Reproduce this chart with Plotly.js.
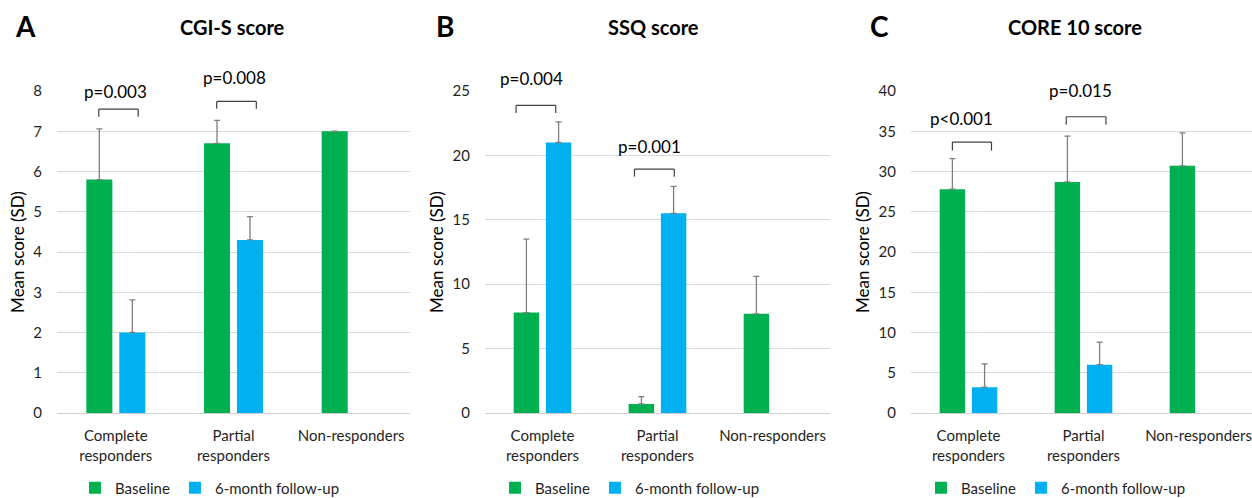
<!DOCTYPE html>
<html>
<head>
<meta charset="utf-8">
<script src="https://cdn.plot.ly/plotly-3.0.1.min.js"></script>
<style>
html, body { margin: 0; padding: 0; overflow: hidden; background: #fff; }
#chart { width: 1258px; height: 498px; }
</style>
</head>
<body>
<div id="chart"></div>
<script>
// ---- Data ----
const categories = ['Complete<br>responders', 'Partial<br>responders', 'Non-responders'];
const seriesNames = ['Baseline', '6-month follow-up'];

const cgisBaseline = [5.8, 6.7, 7.0];
const cgisBaselineSD = [1.26, 0.57, 0.0];
const cgisFollowup = [2.0, 4.3, null];
const cgisFollowupSD = [0.81, 0.58, null];

const ssqBaseline = [7.8, 0.7, 7.7];
const ssqBaselineSD = [5.7, 0.57, 2.9];
const ssqFollowup = [21.0, 15.5, null];
const ssqFollowupSD = [1.6, 2.1, null];

const coreBaseline = [27.8, 28.7, 30.7];
const coreBaselineSD = [3.8, 5.7, 4.1];
const coreFollowup = [3.2, 6.0, null];
const coreFollowupSD = [2.9, 2.8, null];

const panelTitles = ['CGI-S score', 'SSQ score', 'CORE 10 score'];
const panelLetters = ['A', 'B', 'C'];
const pLabelsA = ['p=0.003', 'p=0.008'];
const pLabelsB = ['p=0.004', 'p=0.001'];
const pLabelsC = ['p<0.001', 'p=0.015'];

// ---- Styling ----
const W = 1258, H = 498;
const GREEN = '#00B050', BLUE = '#00B0F0';
const FONT = 'Lato, "Open Sans", sans-serif';
const TXT = '#1f1f1f';

function px(v) { return v / W; }
const yDom = [(H - 413) / H, (H - 91) / H];
const xDoms = [[px(57), px(410)], [px(485), px(830)], [px(911), px(1256)]];

const panels = [
  {b: cgisBaseline, bsd: cgisBaselineSD, f: cgisFollowup, fsd: cgisFollowupSD},
  {b: ssqBaseline, bsd: ssqBaselineSD, f: ssqFollowup, fsd: ssqFollowupSD},
  {b: coreBaseline, bsd: coreBaselineSD, f: coreFollowup, fsd: coreFollowupSD}
];

const traces = [];
panels.forEach((p, i) => {
  const sfx = i === 0 ? '' : String(i + 1);
  const leg = 'legend' + sfx;
  const mk = (vals, sd, color, name) => ({
    type: 'bar', x: categories, y: vals, name: name,
    xaxis: 'x' + sfx, yaxis: 'y' + sfx, legend: leg,
    marker: {color: color},
    error_y: {type: 'data', symmetric: false, array: sd, arrayminus: sd.map(() => 0),
              color: '#7f7f7f', thickness: 1.3, width: 3},
    hoverinfo: 'y'
  });
  traces.push(mk(p.b, p.bsd, GREEN, seriesNames[0]));
  traces.push(mk(p.f, p.fsd, BLUE, seriesNames[1]));
});

const layout = {
  width: W, height: H,
  margin: {l: 0, r: 0, t: 0, b: 0, autoexpand: false},
  paper_bgcolor: '#fff', plot_bgcolor: '#fff',
  font: {family: FONT, size: 15, color: TXT},
  barmode: 'group', bargap: 0.44, bargroupgap: 0.21,
  annotations: [], shapes: []
};

const yRanges = [[0, 8], [0, 25], [0, 40]];
const yDticks = [1, 5, 5];
for (let i = 0; i < 3; i++) {
  const sfx = i === 0 ? '' : String(i + 1);
  layout['xaxis' + sfx] = {
    domain: xDoms[i], anchor: 'y' + sfx, type: 'category',
    showgrid: false, showline: false, ticks: '', ticklabelstandoff: 12,
    tickfont: {family: FONT, size: 15, color: TXT}, fixedrange: true
  };
  layout['yaxis' + sfx] = {
    domain: yDom, anchor: 'x' + sfx, range: yRanges[i], dtick: yDticks[i],
    showgrid: true, gridcolor: '#d9d9d9', gridwidth: 1,
    zeroline: true, zerolinecolor: '#d0d0d0', zerolinewidth: 1,
    showline: false, ticks: '', ticklabelstandoff: 14,
    tickfont: {family: FONT, size: 15, color: TXT},
    title: {text: 'Mean score (SD)', font: {family: FONT, size: 17, color: '#000'}, standoff: 4},
    fixedrange: true
  };
}

// legends
const legCenters = [210, 630, 1056];
legCenters.forEach((c, i) => {
  const key = 'legend' + (i === 0 ? '' : String(i + 1));
  layout[key] = {
    orientation: 'h', x: px(c), xanchor: 'center', y: (H - 488) / H, yanchor: 'middle',
    font: {family: FONT, size: 15, color: TXT}, bgcolor: 'rgba(0,0,0,0)',
    itemwidth: 30, traceorder: 'normal'
  };
});

// panel titles & letters
const titleX = [232, 653, 1075];
const letterX = [26, 445, 879];
for (let i = 0; i < 3; i++) {
  layout.annotations.push({xref: 'paper', yref: 'paper', x: px(titleX[i]), y: (H - 27) / H,
    text: '<b>' + panelTitles[i] + '</b>', showarrow: false, xanchor: 'center', yanchor: 'middle',
    font: {family: FONT, size: 20, color: '#000'}});
  layout.annotations.push({xref: 'paper', yref: 'paper', x: px(letterX[i]), y: (H - 26) / H,
    text: '<b>' + panelLetters[i] + '</b>', showarrow: false, xanchor: 'center', yanchor: 'middle',
    font: {family: FONT, size: 28, color: '#000'}});
}

// significance brackets: [cat index, left offset, right offset, top, bottom, label x offset, label y]
const brackets = [
  {ax: '', lbl: pLabelsA, b: [[0, -0.145, 0.19, 7.55, 7.36, 0.0, 7.99], [1, -0.143, 0.194, 7.74, 7.56, 0.01, 8.33]]},
  {ax: '2', lbl: pLabelsB, b: [[0, -0.23, 0.115, 23.88, 23.3, -0.1, 25.95], [1, -0.2, 0.146, 18.94, 18.35, -0.07, 20.7]]},
  {ax: '3', lbl: pLabelsC, b: [[0, -0.14, 0.2, 33.66, 32.6, -0.06, 36.56], [1, -0.15, 0.195, 36.8, 35.85, -0.03, 40.04]]}
];
brackets.forEach((g, gi) => {
  const ymax = yRanges[gi][1];
  g.b.forEach((b, j) => {
    const [c, l, r, top, bot, lx, ly] = b;
    const base = {type: 'line', xref: 'x' + g.ax, yref: 'y' + g.ax, line: {color: '#404040', width: 1.2}};
    layout.shapes.push(Object.assign({}, base, {x0: c + l, x1: c + r, y0: top, y1: top}));
    layout.shapes.push(Object.assign({}, base, {x0: c + l, x1: c + l, y0: top, y1: bot}));
    layout.shapes.push(Object.assign({}, base, {x0: c + r, x1: c + r, y0: top, y1: bot}));
    layout.annotations.push({xref: 'x' + g.ax, yref: 'y' + g.ax + ' domain', x: c + lx, y: ly / ymax,
      text: g.lbl[j], showarrow: false, xanchor: 'center', yanchor: 'middle',
      font: {family: FONT, size: 17, color: '#000'}});
  });
});

Plotly.newPlot('chart', traces, layout, {displayModeBar: false, staticPlot: true});
</script>
</body>
</html>
